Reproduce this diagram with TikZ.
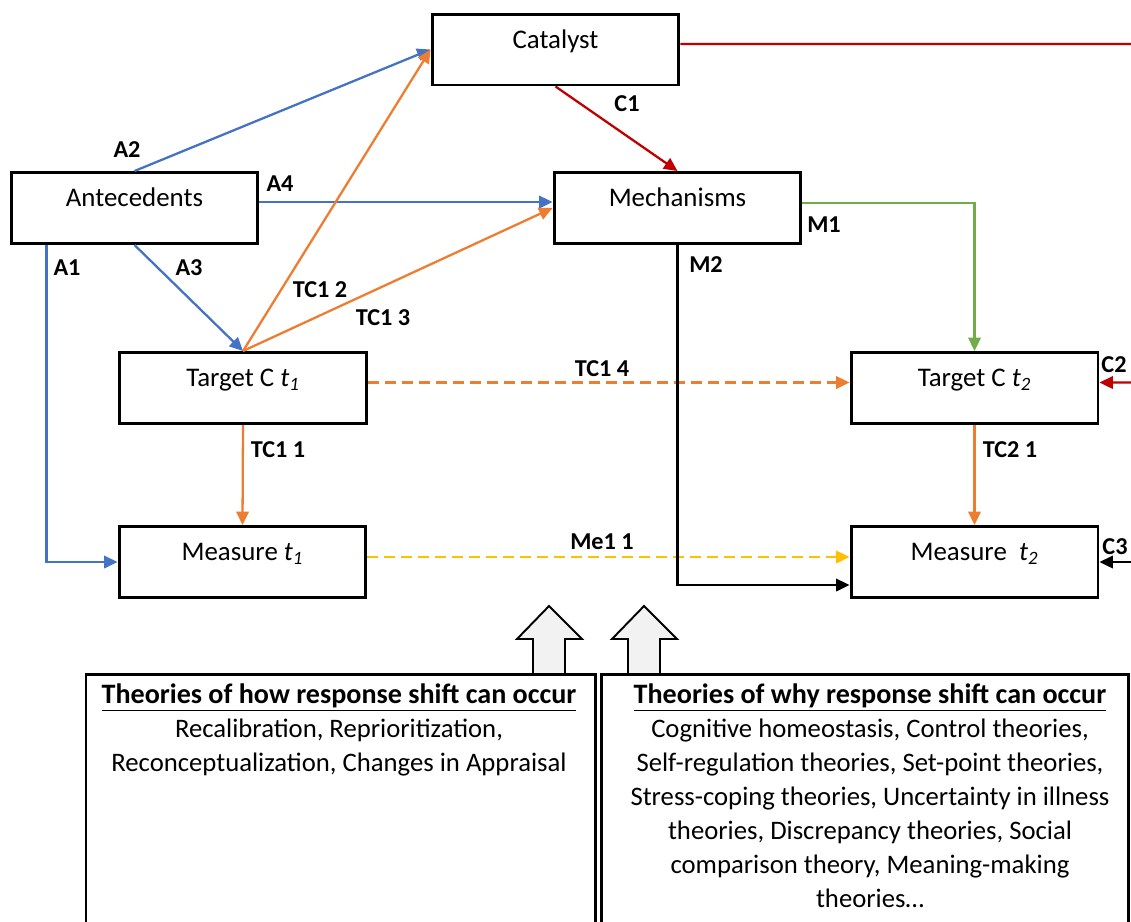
\documentclass[tikz,border=0pt]{standalone}
\usepackage{fontspec}
\setmainfont{Carlito}
\usetikzlibrary{arrows.meta}

\definecolor{ablue}{HTML}{4472C4}
\definecolor{aorange}{HTML}{ED7D31}
\definecolor{ared}{HTML}{C00000}
\definecolor{agreen}{HTML}{70AD47}
\definecolor{ayellow}{HTML}{FFC000}
\definecolor{agrey}{HTML}{F2F2F2}

\tikzset{
	box/.style={draw, line width=1.7pt, minimum width=4.94cm, minimum height=1.42cm, inner sep=0pt, text height=0.4cm, text depth=0.46cm, font=\fontsize{15.3}{18}\selectfont},
	lab/.style={inner sep=0pt, font=\bfseries\fontsize{13.8}{16}\selectfont},
	link/.style={line width=1.3pt, -{Triangle[length=0.27cm,width=0.25cm]}},
	dashlink/.style={link, dash pattern=on 0.22cm off 0.12cm},
	theory/.style={align=center, inner sep=0pt, font=\fontsize{15.2}{19.4}\selectfont},
	blockarrow/.style={draw, line width=1.1pt, fill=agrey}
}

\begin{document}
\begin{tikzpicture}[x=0.02cm, y=-0.02cm]
		%%%%% START %%%%%
		\clip (0,0) rectangle (1131,921);
		
		\node[box] (catalyst) at (555.5,49.5) {Catalyst};
		\node[box] (antecedents) at (134.5,208) {Antecedents};
		\node[box] (mechanisms) at (677.5,208) {Mechanisms};
		\node[box] (targetone) at (243,388) {Target C \textit{t\textsubscript{1}}};
		\node[box] (targettwo) at (974.5,388) {Target C \textit{t\textsubscript{2}}};
		\node[box] (measureone) at (242.5,562) {Measure \textit{t\textsubscript{1}}};
		\node[box] (measuretwo) at (974.5,562) {Measure\ \ \textit{t\textsubscript{2}}};
		
		\coordinate (redend) at (1145,44);
		\coordinate (ctwo) at (1145,382.5);
		\coordinate (cthree) at (1145,562);
		
		% antecedents
		\draw[link, ablue] ([xshift=0.74cm]antecedents.south west) |- (measureone.west);
		\draw[link, ablue] (antecedents.north) -- (catalyst.west);
		\draw[link, ablue] (antecedents.south) -- (targetone.north);
		\draw[link, ablue] ([yshift=0.12cm]antecedents.east) -- ([yshift=0.12cm]mechanisms.west);
		
		% target t1
		\draw[link, aorange] (targetone.north) -- (catalyst.west);
		\draw[link, aorange] (targetone.north) -- (mechanisms.west);
		\draw[link, aorange] (targetone.south) -- (measureone.north);
		\draw[dashlink, aorange] ([yshift=0.11cm]targetone.east) -- ([yshift=0.11cm]targettwo.west);
		\draw[dashlink, ayellow] ([yshift=0.1cm]measureone.east) -- ([yshift=0.1cm]measuretwo.west);
		
		% catalyst and mechanisms
		\draw[link, ared] (catalyst.south) -- (mechanisms.north);
		\draw[line width=1.3pt, ared] ([yshift=0.11cm]catalyst.east) -- (redend);
		\draw[link, agreen] ([yshift=0.1cm]mechanisms.east) -| (targettwo.north);
		\draw[link, black] (mechanisms.south) |- ([yshift=-0.46cm]measuretwo.west);
		\draw[link, aorange] (targettwo.south) -- (measuretwo.north);
		\draw[link, ared] (ctwo) -- ([yshift=0.11cm]targettwo.east);
		\draw[link, black] (cthree) -- (measuretwo.east);
		
		% path labels
		\node[lab] (lAone) at (67,268) {A1};
		\node[lab] (lAtwo) at (127,150) {A2};
		\node[lab] (lAthree) at (189,268) {A3};
		\node[lab] (lAfour) at (280,184) {A4};
		\node[lab] (lTCtwo) at (320,290) {TC1 2};
		\node[lab] (lTCthree) at (383,318) {TC1 3};
		\node[lab] (lCone) at (627,104) {C1};
		\node[lab] (lMone) at (824,225) {M1};
		\node[lab] (lMtwo) at (706,265) {M2};
		\node[lab] (lTCfour) at (602,369) {TC1 4};
		\node[lab] (lTCone) at (278,450) {TC1 1};
		\node[lab] (lTCtwoone) at (1010,450) {TC2 1};
		\node[lab] (lMeone) at (602,542) {Me1 1};
		\node[lab] (lCtwo) at (1114,365) {C2};
		\node[lab] (lCthree) at (1115,547) {C3};
		
		% block arrows
		\draw[blockarrow] (549,606) -- (582,639) -- (565,639) -- (565,674) -- (533,674) -- (533,639) -- (517,639) -- cycle;
		\draw[blockarrow] (644,606) -- (677,639) -- (660,639) -- (660,674) -- (628,674) -- (628,639) -- (612,639) -- cycle;
		
		% theory boxes
		\draw[line width=1.7pt] (86,674) rectangle (595,950);
		\draw[line width=1.7pt] (601,674) rectangle (1128,950);
		\node[theory, anchor=north] (howtext) at (339,683) {\underline{\textbf{\fontsize{16}{18.5}\selectfont Theories of how response shift can occur}}\\ Recalibration, Reprioritization,\\ Reconceptualization, Changes in Appraisal};
		\node[theory, anchor=north] (whytext) at (870,683) {\underline{\textbf{\fontsize{16}{18.5}\selectfont Theories of why response shift can occur}}\\ Cognitive homeostasis, Control theories,\\ Self-regulation theories, Set-point theories,\\ Stress-coping theories, Uncertainty in illness\\ theories, Discrepancy theories, Social\\ comparison theory, Meaning-making\\ theories…};
		%%%%% END %%%%%
\end{tikzpicture}
\end{document}
